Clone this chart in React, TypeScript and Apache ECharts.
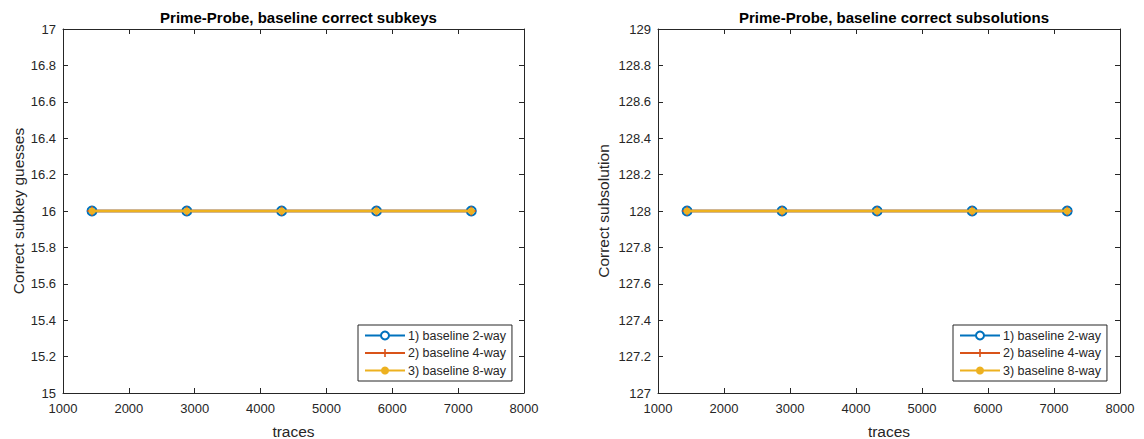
import React, { useEffect, useRef } from "react";
import * as echarts from "echarts";

const traces = [1440, 2880, 4320, 5760, 7200];
const seriesNames = ["1) baseline 2-way", "2) baseline 4-way", "3) baseline 8-way"];
const subkeys2way = [16, 16, 16, 16, 16];
const subkeys4way = [16, 16, 16, 16, 16];
const subkeys8way = [16, 16, 16, 16, 16];
const subsol2way = [128, 128, 128, 128, 128];
const subsol4way = [128, 128, 128, 128, 128];
const subsol8way = [128, 128, 128, 128, 128];
const titles = ["Prime-Probe, baseline correct subkeys", "Prime-Probe, baseline correct subsolutions"];
const yNames = ["Correct subkey guesses", "Correct subsolution"];
const xName = "traces";

const COLORS = ["#0072BD", "#D95319", "#EDB120"];
const AX = "#262626";
const FONT = "Liberation Sans, Arial, Helvetica, sans-serif";
const PLUS = "path://M4,0H6V4H10V6H6V10H4V6H0V4H4Z";

export default function App() {
  const ref = useRef<HTMLDivElement>(null);
  useEffect(() => {
    if (!ref.current) return;
    const chart = echarts.init(ref.current, undefined, { renderer: "svg" });
    const grids = [
      { left: 63, top: 29, width: 461, height: 364, outerBoundsMode: "none", containLabel: false },
      { left: 658, top: 29, width: 462, height: 364, outerBoundsMode: "none", containLabel: false },
    ];
    const yRanges = [
      [15, 17],
      [127, 129],
    ];
    const xAxes: any[] = [];
    const yAxes: any[] = [];
    grids.forEach((g, i) => {
      const common = {
        gridIndex: i,
        axisLine: { show: true, lineStyle: { color: AX, width: 1 } },
        axisTick: { show: true, inside: true, length: 5, lineStyle: { color: AX } },
        splitLine: { show: false },
      };
      xAxes.push({
        ...common,
        type: "value",
        position: "bottom",
        min: 1000,
        max: 8000,
        interval: 1000,
        name: xName,
        nameLocation: "middle",
        nameGap: 30,
        nameTextStyle: { color: AX, fontSize: 15.5, fontFamily: FONT },
        axisLabel: {
          color: AX,
          fontSize: 13,
          fontFamily: FONT,
          margin: 9,
          formatter: (v: number) => String(v),
        },
      });
      xAxes.push({
        ...common,
        type: "value",
        position: "top",
        min: 1000,
        max: 8000,
        interval: 1000,
        axisLabel: { show: false },
      });
      yAxes.push({
        ...common,
        type: "value",
        position: "left",
        min: yRanges[i][0],
        max: yRanges[i][1],
        interval: 0.2,
        name: yNames[i],
        nameLocation: "middle",
        nameGap: i === 0 ? 37 : 47,
        nameTextStyle: { color: AX, fontSize: 15.5, fontFamily: FONT },
        axisLabel: { color: AX, fontSize: 13, fontFamily: FONT, margin: 7 },
      });
      yAxes.push({
        ...common,
        type: "value",
        position: "right",
        min: yRanges[i][0],
        max: yRanges[i][1],
        interval: 0.2,
        axisLabel: { show: false },
      });
    });

    const data = [
      [subkeys2way, subkeys4way, subkeys8way],
      [subsol2way, subsol4way, subsol8way],
    ];
    const symbols = ["emptyCircle", PLUS, "circle"];
    const symbolSizes = [9, 9, 7];
    const series: any[] = [];
    data.forEach((set, gi) => {
      set.forEach((vals, si) => {
        series.push({
          type: "line",
          name: seriesNames[si],
          xAxisIndex: gi * 2,
          yAxisIndex: gi * 2,
          data: traces.map((t, k) => [t, vals[k]]),
          symbol: symbols[si],
          symbolSize: symbolSizes[si],
          showAllSymbol: true,
          lineStyle: { color: COLORS[si], width: 2.5 },
          itemStyle: {
            color: COLORS[si],
            borderColor: COLORS[si],
            borderWidth: si === 0 ? 2 : 0,
          },
          emphasis: { disabled: true },
          z: 2 + si,
        });
      });
    });

    const legendCommon = {
      orient: "vertical",
      top: 325,
      backgroundColor: "#fff",
      borderColor: AX,
      borderWidth: 1,
      padding: [3.5, 6, 3.5, 6],
      itemGap: 3.5,
      itemWidth: 40,
      itemHeight: 10,
      selectedMode: false,
      textStyle: {
        color: AX,
        fontSize: 12.5,
        lineHeight: 14,
        fontFamily: FONT,
        padding: [0, 0, 0, -2],
      },
      data: seriesNames,
    };

    chart.setOption({
      animation: false,
      backgroundColor: "#fff",
      title: titles.map((t, i) => ({
        text: t,
        left: grids[i].left + grids[i].width / 2,
        top: 5,
        textAlign: "center",
        textStyle: { color: "#000", fontSize: 15, fontWeight: "bold", fontFamily: FONT },
      })),
      legend: [
        { ...legendCommon, left: 358 },
        { ...legendCommon, left: 953 },
      ],
      grid: grids,
      xAxis: xAxes,
      yAxis: yAxes,
      series,
    });
    return () => chart.dispose();
  }, []);
  return (
    <div
      ref={ref}
      style={{ position: "fixed", left: 0, top: 0, width: 1144, height: 439, background: "#fff" }}
    />
  );
}
